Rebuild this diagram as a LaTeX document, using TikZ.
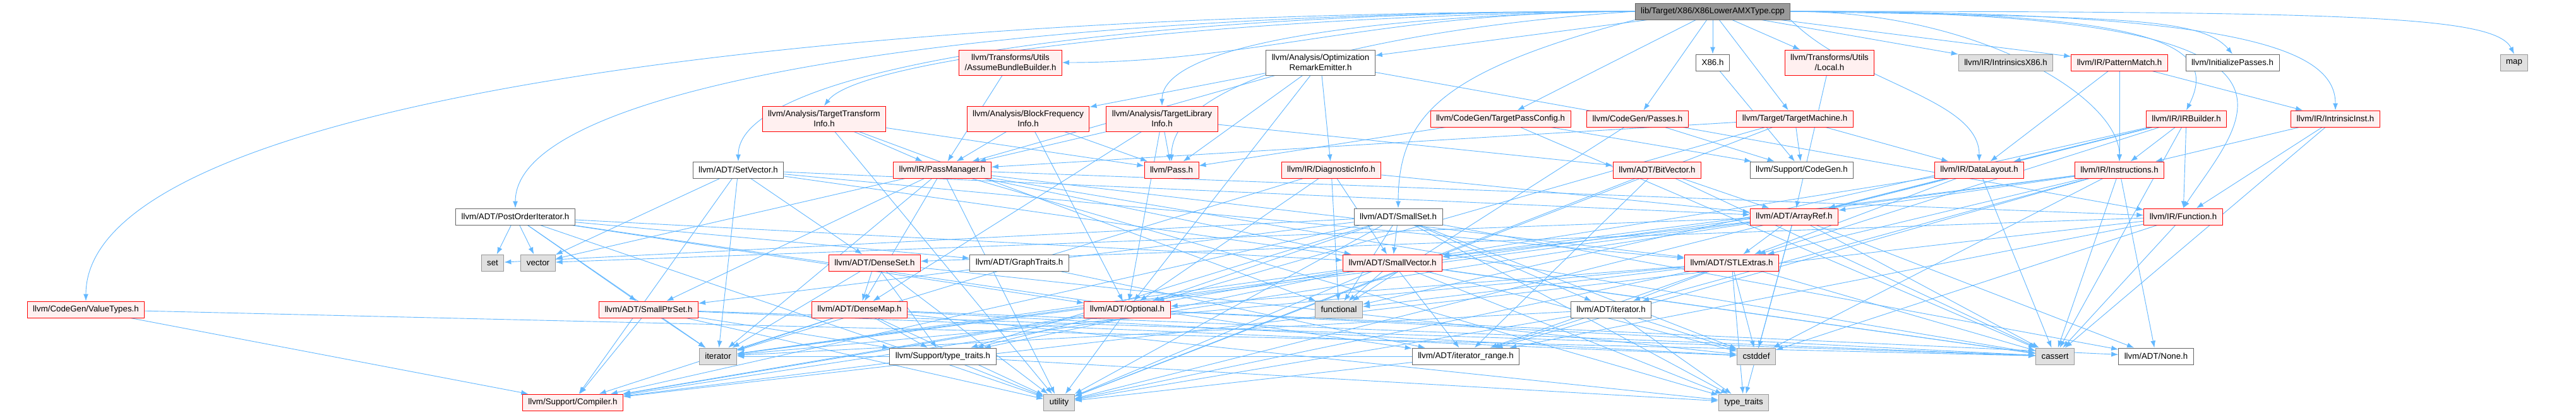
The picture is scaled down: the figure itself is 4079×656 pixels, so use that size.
\documentclass[tikz,border=0pt]{standalone}
\usepackage{fontspec}
\setmainfont{Liberation Sans}
\usetikzlibrary{arrows.meta}
\definecolor{edgeblue}{HTML}{63B8FF}
\definecolor{hdrfill}{HTML}{FFF0F0}
\definecolor{sysfill}{HTML}{E0E0E0}
\definecolor{rootfill}{HTML}{999999}
\pgfdeclarelayer{back}
\pgfdeclarelayer{edges}
\pgfsetlayers{back,edges,main}
\tikzset{
  box/.style={draw, rectangle, line width=1pt, inner xsep=9pt, inner ysep=4pt,
    minimum height=26pt, align=center, font=\fontsize{13.3}{16}\selectfont},
  two/.style={minimum height=40pt},
  hdr/.style={box, draw=red, fill=hdrfill},
  plain/.style={box, draw=black!60, fill=white},
  sys/.style={box, draw=black!40, fill=sysfill},
  rootbox/.style={box, draw=black!60, fill=rootfill},
  dep/.style={color=edgeblue, line width=0.9pt, -{Latex[length=11pt,width=8pt]}}
}
\newcommand{\deps}[2]{\foreach \dst in {#2} \draw[dep] (#1) -- (\dst);}
\newcommand{\bend}[4]{\draw[dep] (#1) .. controls +(#2) and +(#3) .. (#4)}

\begin{document}
\begin{tikzpicture}[x=1pt,y=-1pt]
\useasboundingbox (0,0) rectangle (4079,656);
\begin{pgfonlayer}{back}
  \fill[white] (0,0) rectangle (4079,656);
\end{pgfonlayer}
%The source file
	\node[rootbox] (root) at (2712,18) {lib/Target/X86/X86LowerAMXType.cpp};
%First row
	\node[hdr,two] (abb) at (1600,99) {llvm/Transforms/Utils\\/AssumeBundleBuilder.h};
	\node[plain,two] (ore) at (2091,99) {llvm/Analysis/Optimization\\RemarkEmitter.h};
	\node[plain] (x86) at (2712,99) {X86.h};
	\node[hdr,two] (local) at (2897,99) {llvm/Transforms/Utils\\/Local.h};
	\node[sys] (intrx86) at (3176,99) {llvm/IR/IntrinsicsX86.h};
	\node[hdr] (patmatch) at (3356,99) {llvm/IR/PatternMatch.h};
	\node[plain] (initpass) at (3535,99) {llvm/InitializePasses.h};
	\node[sys] (map) at (3981,99) {map};
%Second row
	\node[hdr,two] (tti) at (1305,188) {llvm/Analysis/TargetTransform\\Info.h};
	\node[hdr,two] (bfi) at (1628,188) {llvm/Analysis/BlockFrequency\\Info.h};
	\node[hdr,two] (tli) at (1840,188) {llvm/Analysis/TargetLibrary\\Info.h};
	\node[hdr] (tpc) at (2376,188) {llvm/CodeGen/TargetPassConfig.h};
	\node[hdr] (cgpasses) at (2593,188) {llvm/CodeGen/Passes.h};
	\node[hdr] (tm) at (2842,188) {llvm/Target/TargetMachine.h};
	\node[hdr] (irb) at (3462,188) {llvm/IR/IRBuilder.h};
	\node[hdr] (intrinst) at (3698,188) {llvm/IR/IntrinsicInst.h};
%Third row
	\node[plain] (setvec) at (1169,269) {llvm/ADT/SetVector.h};
	\node[hdr] (pm) at (1492,269) {llvm/IR/PassManager.h};
	\node[hdr] (pass) at (1855,269) {llvm/Pass.h};
	\node[hdr] (diag) at (2108,269) {llvm/IR/DiagnosticInfo.h};
	\node[hdr] (bitvec) at (2624,269) {llvm/ADT/BitVector.h};
	\node[plain] (cg) at (2853,269) {llvm/Support/CodeGen.h};
	\node[hdr] (dl) at (3134,269) {llvm/IR/DataLayout.h};
	\node[hdr] (instr) at (3356,269) {llvm/IR/Instructions.h};
%Fourth row
	\node[plain] (poi) at (816,343) {llvm/ADT/PostOrderIterator.h};
	\node[plain] (smallset) at (2214,343) {llvm/ADT/SmallSet.h};
	\node[hdr] (arrayref) at (2841,343) {llvm/ADT/ArrayRef.h};
	\node[hdr] (func) at (3457,343) {llvm/IR/Function.h};
%Fifth row
	\node[sys] (set) at (780,416) {set};
	\node[sys] (vector) at (852,416) {vector};
	\node[hdr] (denseset) at (1385,416) {llvm/ADT/DenseSet.h};
	\node[plain] (graph) at (1614,416) {llvm/ADT/GraphTraits.h};
	\node[hdr] (smallvec) at (2205,416) {llvm/ADT/SmallVector.h};
	\node[hdr] (stl) at (2742,416) {llvm/ADT/STLExtras.h};
%Sixth row
	\node[hdr] (vt) at (136,490) {llvm/CodeGen/ValueTypes.h};
	\node[hdr] (smallptr) at (1027,490) {llvm/ADT/SmallPtrSet.h};
	\node[hdr] (densemap) at (1361,490) {llvm/ADT/DenseMap.h};
	\node[hdr] (optional) at (1785,490) {llvm/ADT/Optional.h};
	\node[sys] (functional) at (2120,490) {functional};
	\node[plain] (iterh) at (2551,490) {llvm/ADT/iterator.h};
%Seventh row
	\node[sys] (iterator) at (1137,564) {iterator};
	\node[plain] (tth) at (1493,564) {llvm/Support/type\_traits.h};
	\node[plain] (itrange) at (2321,564) {llvm/ADT/iterator\_range.h};
	\node[sys] (cstddef) at (2781,564) {cstddef};
	\node[sys] (cassert) at (3254,564) {cassert};
	\node[plain] (none) at (3414,564) {llvm/ADT/None.h};
%Last row
	\node[hdr] (compiler) at (907,637) {llvm/Support/Compiler.h};
	\node[sys] (utility) at (1677,637) {utility};
	\node[sys] (typetraits) at (2761,637) {type\_traits};

\begin{pgfonlayer}{edges}
%Includes of the source file
	\bend{root.west}{-1400,0}{0,-300}{vt.north};
	\bend{root.west}{-1000,0}{0,-200}{poi.north};
	\bend{root.west}{-800,0}{0,-150}{setvec.north};
	\bend{root.west}{-600,5}{60,-80}{tti.north};
	\bend{root.west}{-400,0}{300,0}{abb.east};
	\bend{root.west}{-400,5}{0,-100}{tli.north};
	\bend{root.west}{-300,20}{0,-150}{pass.north};
	\bend{root.south west}{-300,80}{0,-150}{smallset.north};
	\bend{root.south east}{100,100}{0,-100}{dl.north};
	\bend{root.east}{300,0}{0,-100}{instr.north};
	\bend{root.east}{600,0}{50,-100}{irb.north};
	\bend{root.east}{700,0}{0,-100}{intrinst.north};
	\bend{root.east}{900,0}{100,-150}{func.north};
	\bend{root.east}{500,10}{-50,-60}{initpass.north};
	\bend{root.east}{900,0}{-30,-60}{map.north};
	\deps{root}{ore,x86,tpc,cgpasses,tm,local,intrx86,patmatch}
%Headers
	\deps{abb}{pm}
	\deps{ore}{bfi,diag,func,optional,pm,pass}
	\deps{x86}{cg}
	\deps{local}{arrayref}
	\deps{patmatch}{dl,instr,intrinst}
	\deps{tti}{pm,pass,functional,utility}
	\deps{bfi}{pm,pass,optional}
	\deps{tli}{bitvec,densemap,optional,pm,pass}
	\deps{tpc}{pass,cg,cassert}
	\deps{cgpasses}{cg,functional}
	\deps{tm}{dl,pm,cg,optional,utility}
	\deps{irb}{arrayref,stl,dl,func,instr,cassert,functional,utility}
	\deps{intrinst}{func,instr,cassert}
	\deps{vt}{compiler,cassert}
	\deps{setvec}{arrayref,denseset,stl,compiler,cassert,iterator,vector}
	\deps{pm}{densemap,stl,smallptr,smallvec,func,cassert,iterator,typetraits,utility,vector}
	\deps{diag}{arrayref,optional,smallvec,functional,iterator}
	\deps{bitvec}{arrayref,itrange,cassert,utility}
	\deps{dl}{arrayref,stl,smallvec,cassert}
	\deps{instr}{arrayref,none,stl,smallvec,iterh,itrange,cassert,cstddef,iterator}
	\deps{func}{denseset,itrange,compiler,cassert,cstddef}
%ADT
	\deps{poi}{graph,optional,smallptr,smallvec,itrange,iterator,set,utility,vector}
	\deps{smallset}{none,optional,smallptr,smallvec,iterh,compiler,tth,cstddef,functional,set,typetraits,utility}
	\deps{arrayref}{none,stl,smallvec,compiler,cassert,cstddef,iterator,typetraits,vector}
	\deps{denseset}{densemap,tth,cstddef,iterator,utility}
	\deps{graph}{itrange}
	\deps{smallvec}{itrange,compiler,tth,cassert,cstddef,functional,iterator,typetraits,utility}
	\deps{stl}{optional,iterh,itrange,cassert,cstddef,functional,iterator,typetraits,utility}
	\deps{smallptr}{compiler,tth,cassert,cstddef,iterator,utility}
	\deps{densemap}{compiler,tth,cassert,cstddef,iterator,typetraits,utility}
	\deps{optional}{none,compiler,tth,cassert,utility}
	\deps{iterh}{itrange,cstddef,iterator,typetraits,utility}
	\deps{itrange}{iterator,utility}
	\deps{tth}{compiler,typetraits,utility}
\end{pgfonlayer}
\end{tikzpicture}
\end{document}
